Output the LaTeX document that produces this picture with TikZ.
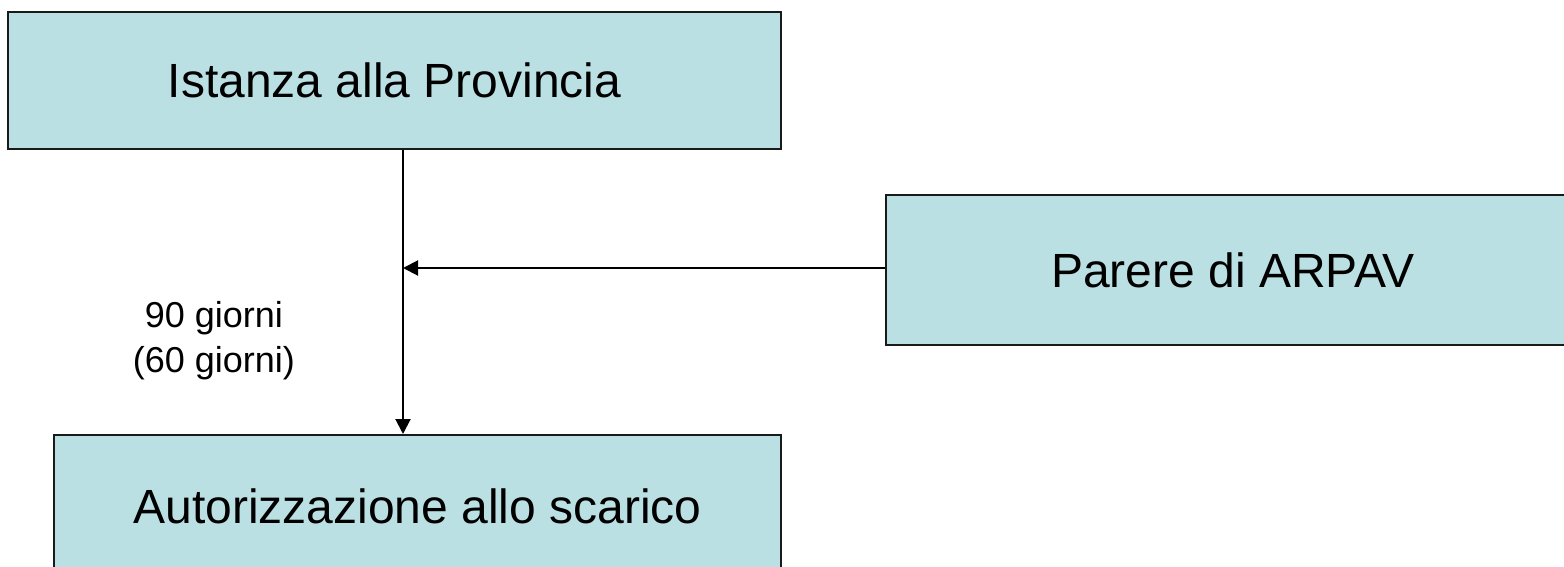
\documentclass[tikz,border=0pt]{standalone}
\usepackage{fontspec}
\setmainfont{Liberation Sans}
\usetikzlibrary{arrows.meta}
\definecolor{boxfill}{HTML}{BBE0E3}
\definecolor{boxline}{HTML}{1A1A1A}
\tikzset{
  flowbox/.style={draw=boxline, line width=2pt, fill=boxfill, inner sep=0pt, font=\fontsize{48}{58}\selectfont},
  conn/.style={draw=black, line width=2pt, -{Triangle[length=15pt,width=15pt]}},
  lbl/.style={font=\fontsize{36}{45}\selectfont, align=center, inner sep=0pt}
}
\begin{document}
\begin{tikzpicture}[x=1pt,y=-1pt]
\useasboundingbox (0,0) rectangle (1564,566);
\clip (0,0) rectangle (1564,566);
\node[flowbox, minimum width=773pt, minimum height=137pt] (ist) at (394.5,80.5) {Istanza alla Provincia};
\node[flowbox, minimum width=694pt, minimum height=150pt] (par) at (1233,270) {Parere di ARPAV};
\node[flowbox, minimum width=727pt, minimum height=142pt] (aut) at (417.5,506) {Autorizzazione allo scarico};
\coordinate (j) at (403,268);
\draw[conn] (j |- ist.south) -- (j |- aut.north);
\draw[conn] (par.west |- j) -- (j);
\node[lbl] (giorni) at (214,341) {90 giorni\\(60 giorni)};
\end{tikzpicture}
\end{document}
